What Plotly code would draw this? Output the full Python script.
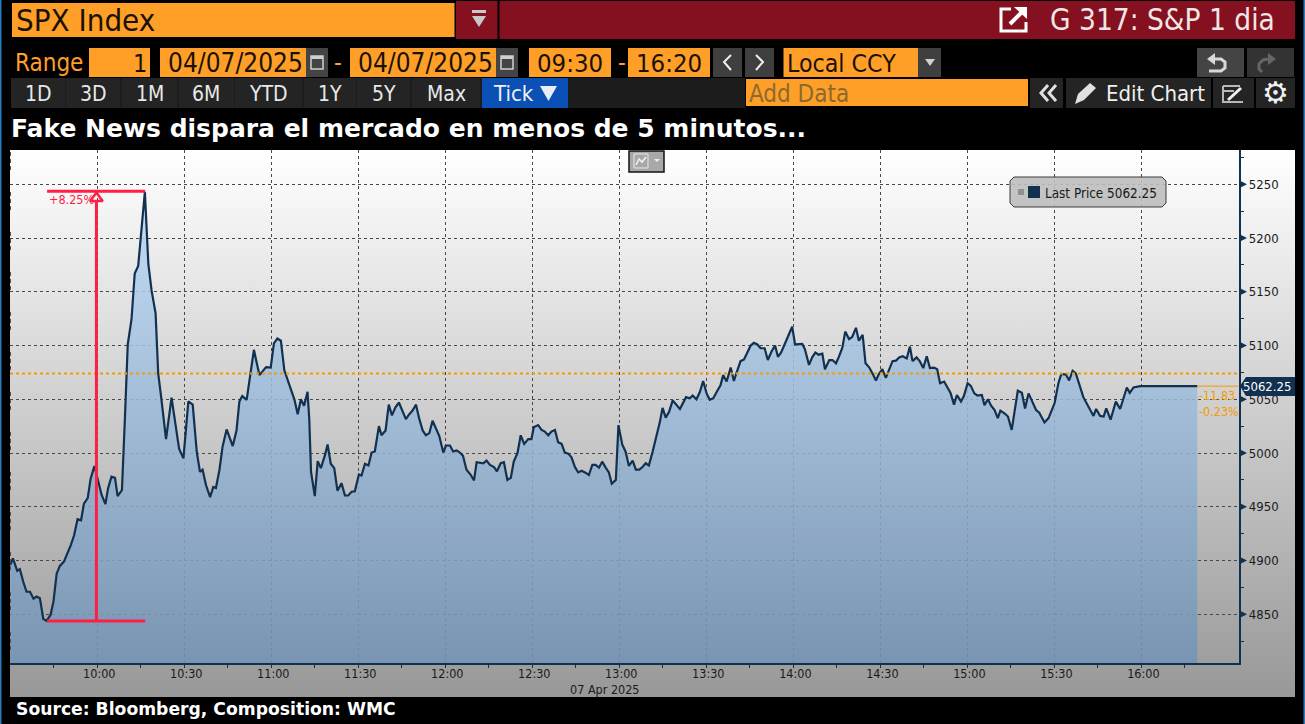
import pandas as pd
import plotly.graph_objects as go

# chart data, minutes since the 09:30 open
minutes = [
    0, 0.9, 2.4, 3.3, 4.5, 5.6, 6.8, 8, 9.1, 10.2, 11.4, 12.5, 13.9, 14.9, 16, 17.1, 18.5, 19.8, 20.9, 22,
    23.2, 24.4, 25.4, 26.7, 27.7, 29, 30.5, 31.5, 32.8, 33.7, 34.9, 36.1, 37, 38.5, 39.5, 40.5, 41.8, 42.9, 44.1, 46.4,
    47.6, 48.7, 50.1, 51, 52, 53, 53.7, 55.6, 56.8, 58.2, 59.7, 61.4, 62.9, 63.3, 64.3, 65.4, 66.3, 67.5, 68.9, 70,
    70.9, 72.1, 73.2, 74.6, 76.7, 78, 79, 80, 81.5, 84, 85.9, 88.2, 89.8, 90.9, 92.1, 93.3, 94.5, 98, 99.1, 100.2,
    101.3, 102.5, 103.1, 103.7, 105, 106, 107.1, 108.5, 109.4, 110.5, 111.7, 112.8, 114.2, 115.4, 116.5, 117.7, 118.8, 120.2, 121.1, 122.3,
    123.5, 124.6, 125.7, 127.1, 128, 129.4, 130.5, 131.6, 132.8, 134, 135.3, 136.4, 137.4, 138.7, 139.9, 141, 142.2, 143.3, 144.5, 145.6,
    147.9, 149.3, 150.2, 151.6, 152.7, 153.9, 155, 156.1, 157.3, 158.7, 159.9, 160.8, 163.1, 164.2, 165.4, 166.8, 167.8, 169.1, 170.2, 171.4,
    172.6, 173.6, 174.9, 176, 177.2, 178.6, 179.7, 180.5, 182, 183.2, 184.3, 185.5, 186.6, 187.8, 188.9, 190.1, 191.2, 192.4, 193.5, 194.7,
    195.8, 197, 198.5, 199.5, 200.7, 201.8, 203, 204.1, 205.3, 206.4, 207.4, 208.8, 209.7, 211, 212.2, 213.3, 214.6, 215.7, 216.9, 218,
    219.1, 220.2, 221.5, 222.6, 224, 224.9, 226, 227.2, 228.4, 230.9, 233, 234.3, 235.3, 236.6, 237.8, 238.9, 240.1, 241.2, 242.4, 243.8,
    244.9, 245.8, 247, 248.4, 249.5, 250.7, 251.8, 253, 254.1, 255.3, 256.4, 257.6, 258.7, 260.1, 261.2, 262.4, 263.7, 264.7, 265.8, 267.2,
    268.4, 269.6, 270.6, 273.1, 274, 275.4, 276.5, 277.6, 278.7, 280, 280.9, 282.4, 283.5, 284.7, 285.7, 286.9, 287.9, 289.2, 290.3, 291.6,
    292.6, 293.9, 294.9, 296.2, 297.3, 298.5, 299.5, 300.7, 301.9, 303.1, 304.2, 305.4, 306.5, 307.7, 309.1, 310.2, 311.1, 312.5, 313.7, 314.8,
    316, 317.1, 318.5, 319.6, 320.6, 322, 323.2, 324.2, 325.4, 326.4, 327.8, 328.8, 330.1, 331.2, 332.4, 333.5, 335, 335.9, 337.1, 338.2,
    339.4, 340.5, 341.4, 342.8, 344, 345.3, 347.4, 348.8, 349.9, 351.1, 352.2, 353.7, 354.8, 356.6, 358, 360.1, 361.4, 362.4, 364, 365.1,
    366.3, 367.4, 370, 373.5, 374.4, 375.8, 377, 377.9, 379.4, 381.2, 382.7, 385, 386, 387.3, 389.6, 409.3,
]
prices = [
    4896, 4902, 4890.5, 4892, 4880, 4871, 4871, 4864.5, 4866.5, 4865, 4845.5, 4844, 4849.5, 4862, 4888, 4895, 4899, 4907, 4914.5, 4923.5,
    4938.5, 4937.5, 4953, 4958, 4976, 4988, 4971.5, 4961, 4952.5, 4967, 4978, 4977, 4960, 4965.5, 5031, 5101, 5124.5, 5167, 5174, 5243,
    5176, 5151.5, 5130, 5074, 5052.5, 5031, 5013, 5051.5, 5031, 5004, 4995, 5048, 5045, 5031, 5001, 4982.5, 4984.5, 4970, 4959, 4968.5,
    4967.5, 4984, 5006, 5022, 5006.5, 5021, 5048, 5053, 5049.5, 5096, 5072.5, 5080, 5079.5, 5102, 5106.5, 5104.5, 5077, 5049.5, 5036, 5050,
    5044, 5057, 5031, 4982.5, 4960, 4992.5, 4986, 4998, 5008, 4990, 4986, 4965, 4972, 4960.5, 4960.5, 4964, 4964.5, 4980, 4979, 4990,
    4988.5, 5000.5, 5001.5, 5025, 5016.5, 5021, 5045, 5035, 5042.5, 5047, 5038, 5031.5, 5035.5, 5039.5, 5045, 5032, 5021, 5016.5, 5018.5, 5030,
    5016, 5000.5, 5007, 5007, 5001.5, 5002.5, 5000.5, 4997.5, 4984.5, 4980, 4974.5, 4991.5, 4990.5, 4993, 4989, 4987, 4983, 4990.5, 4991.5, 4975,
    4977, 4992, 5000, 5016.5, 5008.5, 5013, 5013, 5024, 5026, 5021.5, 5020, 5016.5, 5020, 5021.5, 5010, 5008.5, 5000.5, 4999.5, 4996, 4987,
    4982, 4983.5, 4981.5, 4979.5, 4989, 4989, 4986.5, 4992, 4986.5, 4982, 4971.5, 4975, 5026, 5008, 5001, 4988, 4993, 4984.5, 4984.5, 4987,
    4990.5, 4988.5, 5001.5, 5013, 5029, 5042, 5033, 5038.5, 5049, 5041, 5052, 5051, 5053.5, 5050, 5057, 5067, 5055.5, 5049.5, 5051, 5058,
    5063, 5072.5, 5066.5, 5079.5, 5067, 5077, 5085.5, 5087, 5094, 5100, 5102.5, 5101, 5097.5, 5097.5, 5086.5, 5094, 5100, 5089.5, 5093.5, 5103,
    5110, 5117.5, 5101, 5101.5, 5096.5, 5082, 5089, 5093.5, 5091.5, 5092.5, 5078, 5086.5, 5086.5, 5083.5, 5089.5, 5098, 5113, 5106, 5108, 5116.5,
    5104.5, 5110, 5083.5, 5079.5, 5074, 5067.5, 5073.5, 5078, 5070, 5078, 5085.5, 5086, 5089, 5090, 5088, 5099, 5085.5, 5089, 5085, 5079,
    5090, 5079, 5079.5, 5078, 5065, 5066.5, 5060, 5056, 5045, 5054, 5048, 5053, 5065, 5062.5, 5055.5, 5053.5, 5054, 5044.5, 5050, 5044,
    5040, 5032.5, 5039.5, 5037, 5034, 5021.5, 5058, 5056, 5041.5, 5055.5, 5049, 5040, 5037.5, 5028.5, 5032.5, 5046.5, 5065, 5073.5, 5073, 5067.5,
    5076.5, 5074, 5052, 5034.5, 5041, 5034.5, 5034, 5041.5, 5031, 5048, 5041, 5061, 5056, 5061, 5062.25, 5062.25,
]
price_ticks = [4850, 4900, 4950, 5000, 5050, 5100, 5150, 5200, 5250]
price_minor = [4825, 4875, 4925, 4975, 5025, 5075, 5125, 5175, 5225, 5275]
time_labels = ["10:00", "10:30", "11:00", "11:30", "12:00", "12:30", "13:00", "13:30", "14:00", "14:30", "15:00", "15:30", "16:00"]
time_minor = ["09:45", "10:15", "10:45", "11:15", "11:45", "12:15", "12:45", "13:15", "13:45", "14:15", "14:45", "15:15", "15:45", "16:15"]
prev_close = 5074.08
last_price = 5062.25
range_low = 4843.7
range_high = 5243.5

W, H = 1305, 724
ORANGE = "#ff9f27"
MAROON = "#85101f"
NAVY = "#12304f"
RED = "#ff1f44"
AMBER = "#f59a00"
NARROW = "DejaVu Sans Condensed, Liberation Sans Narrow, sans-serif"
HEAVY = "DejaVu Sans, sans-serif"

DAY = "2025-04-07 "


def at_minute(m):
    return pd.Timestamp(DAY + "09:30") + pd.to_timedelta(m, unit="min")


times = [at_minute(m) for m in minutes]
x_start = at_minute(-0.1)
x_end = at_minute(423.5)

shapes = []
notes = []


def box(x0, y0, x1, y1, fill):
    shapes.append(dict(type="rect", xref="paper", yref="paper", x0=x0 / W, x1=x1 / W,
                       y0=1 - y0 / H, y1=1 - y1 / H, fillcolor=fill, line_width=0))


def poly(points, fill=None, line=None, width=1, closed=False):
    # outline given in screen pixels
    path = "M" + " L".join(f"{x / W:.5f},{1 - y / H:.5f}" for x, y in points)
    if closed:
        path += " Z"
    shapes.append(dict(type="path", xref="paper", yref="paper", path=path,
                       fillcolor=fill if fill else "rgba(0,0,0,0)",
                       line=dict(color=line if line else "rgba(0,0,0,0)", width=width)))


def label(x, y, text, size, color, anchor="left", font=NARROW):
    notes.append(dict(xref="paper", yref="paper", x=x / W, y=1 - y / H, text=text, showarrow=False,
                      xanchor=anchor, yanchor="middle", borderpad=0,
                      font=dict(family=font, size=size, color=color)))


# window frame and the header rows
box(0, 0, 1.5, H, "#2a7ac0")
box(1303.5, 0, W, H, "#2a7ac0")

box(12, 3, 454.5, 37, ORANGE)
label(15, 20, "SPX Index", 31, "#1a1206")
box(456, 1, 497.5, 39, MAROON)
box(472, 10, 486, 13, "#c8c8c8")
poly([(472, 16), (486, 16), (479, 27)], fill="#c8c8c8", closed=True)
box(499.5, 1, 1295, 39, MAROON)
poly([(1011, 9), (1001, 9), (1001, 31), (1026, 31), (1026, 22)], line="#ffffff", width=3)
poly([(1010, 24), (1022, 12)], line="#ffffff", width=4)
poly([(1014, 7), (1027, 7), (1027, 19)], fill="#ffffff", closed=True)
label(1049, 20, "G 317: S&amp;P 1 dia", 29.5, "#f0e6e6")

label(14, 63, "Range", 24, ORANGE)
box(89, 48, 150, 77, ORANGE)
label(148, 63, "1", 25, "#1a1206", "right")
for bx0, bx1, txt in [(160, 306, "04/07/2025"), (350, 496, "04/07/2025")]:
    box(bx0, 48, bx1, 77, ORANGE)
    label(bx1 - 2, 63, txt, 26, "#1a1206", "right")
    box(bx1, 48, bx1 + 22, 77, "#444444")
    poly([(bx1 + 5, 56), (bx1 + 17, 56), (bx1 + 17, 69), (bx1 + 5, 69)], line="#cfcfcf", width=1.5, closed=True)
    box(bx1 + 5, 56, bx1 + 17, 59, "#cfcfcf")
label(338, 63, "-", 24, ORANGE, "center")
box(529, 48, 611, 77, ORANGE)
label(570, 63, "09:30", 25.5, "#1a1206", "center")
label(622, 63, "-", 24, ORANGE, "center")
box(628, 48, 710, 77, ORANGE)
label(669, 63, "16:20", 25.5, "#1a1206", "center")
box(713, 48, 742, 77, "#3f3f3f")
poly([(731, 55), (724, 62), (731, 70)], line="#f0f0f0", width=2)
box(745, 48, 774, 77, "#3f3f3f")
poly([(756, 55), (763, 62), (756, 70)], line="#f0f0f0", width=2)
box(783.5, 48, 918, 77, ORANGE)
label(786, 63, "Local CCY", 24.7, "#1a1206")
box(918, 48, 941, 77, "#3f3f3f")
poly([(925, 59), (935, 59), (930, 66)], fill="#d0d0d0", closed=True)

# undo and redo arrows
box(1197, 48, 1244, 77, "#444444")
poly([(1214, 59), (1221, 59), (1225, 62), (1225, 68), (1221, 71), (1209, 71)], line="#d8d8d8", width=3)
poly([(1207, 59), (1215, 53), (1215, 65)], fill="#d8d8d8", closed=True)
box(1247, 48, 1294, 77, "#333333")
poly([(1268, 59), (1263, 60), (1259, 64), (1259, 69), (1262, 72)], line="#666666", width=3)
poly([(1276, 59), (1268, 53), (1268, 65)], fill="#666666", closed=True)

box(11, 78, 745, 108, "#1c1c1c")
for bx0, bx1, txt in [(11, 65, "1D"), (66, 120, "3D"), (122, 177, "1M"), (179, 234, "6M"), (235, 302, "YTD"),
                      (304, 356, "1Y"), (357, 410, "5Y"), (412, 480, "Max")]:
    box(bx0, 78, bx1, 108, "#242424")
    label((bx0 + bx1) / 2, 94, txt, 21, "#e8e8e8", "center")
box(482, 78, 568, 108, "#0a50b5")
label(492, 94, "Tick", 22, "#f0f0f0")
poly([(540, 86), (557, 86), (548.5, 101)], fill="#e8eef8", closed=True)
box(746, 79, 1028, 106, ORANGE)
label(748, 94, "Add Data", 24, "#8a6a30")
box(1030, 78, 1063, 108, "#242424")
poly([(1048, 85), (1041, 93), (1048, 101)], line="#e0e0e0", width=3)
poly([(1056, 85), (1049, 93), (1056, 101)], line="#e0e0e0", width=3)
box(1066, 78, 1211, 108, "#242424")
poly([(1075, 104), (1078, 94), (1090, 83), (1096, 88), (1084, 100)], fill="#e0e0e0", closed=True)
label(1105, 94, "Edit Chart", 22, "#f0f0f0")
box(1213, 78, 1254, 108, "#242424")
poly([(1223, 86), (1240, 86)], line="#b8b8b8", width=2)
poly([(1223, 91), (1234, 91)], line="#b8b8b8", width=2)
poly([(1223, 86), (1223, 102), (1243, 102)], line="#b8b8b8", width=2)
poly([(1228, 100), (1241, 88)], line="#f0f0f0", width=3)
box(1256, 78, 1295, 108, "#242424")
label(1275, 92, "<b>⚙</b>", 30, "#f0f0f0", "center", HEAVY)

label(10, 129, "<b>Fake News dispara el mercado en menos de 5 minutos...</b>", 25, "#ffffff", font=HEAVY)
label(15, 709, "<b>Source: Bloomberg, Composition: WMC</b>", 17.2, "#ffffff", font=HEAVY)

# dashed left border of the panel
for k in range(0, 13):
    shapes.append(dict(type="line", xref="paper", yref="paper", x0=10.5 / W, x1=10.5 / W,
                       y0=1 - (152 + k * 40) / H, y1=1 - (170 + k * 40) / H,
                       line=dict(color="#555555", width=1, dash="4px,3px")))

# chart type selector
box(629, 151, 664, 172, "#a8a8a8")
poly([(629, 151), (664, 151), (664, 172), (629, 172)], line="#111111", width=1.5, closed=True)
poly([(634, 154), (648, 154), (648, 168), (634, 168)], line="#e8e8e8", width=1, closed=True)
poly([(636, 165), (639, 159), (642, 162), (646, 157)], line="#f4f4f4", width=1.5)
poly([(654, 159), (660, 159), (657, 162)], fill="#f0f0f0", closed=True)

# legend box
poly([(1014, 177), (1162, 177), (1166, 181), (1166, 203), (1162, 207), (1014, 207), (1010, 203), (1010, 181)],
     fill="rgba(190,190,190,0.9)", line="#3a3a3a", width=1, closed=True)
box(1018, 189, 1024, 195, "#8f8f8f")
box(1028, 186, 1040, 198, NAVY)
label(1044, 193, f"Last Price {last_price:.2f}", 13.4, "#1a1a1a")

# arrow heads on the price axis
for p in price_ticks:
    shapes.append(dict(type="path", xref="paper", yref="y2", fillcolor=NAVY, line_width=0,
                       path=f"M{1239 / W:.5f},{p + 3.7} L{1247 / W:.5f},{p} L{1239 / W:.5f},{p - 3.7} Z"))

# price tag on the axis
poly([(1240, 386), (1246, 377), (1295, 377), (1295, 396), (1246, 396)], fill=NAVY, closed=True)
notes.append(dict(xref="paper", yref="y2", x=1293 / W, y=last_price, text=f"{last_price:.2f}", showarrow=False,
                  xanchor="right", yanchor="middle", font=dict(family=NARROW, size=13, color="#ffffff")))
label(1198, 395, "-11.83", 12.5, AMBER)
label(1198, 411, "-0.23%", 12.5, AMBER)
label(48, 200, "+8.25%", 12.5, RED)
label(605, 689, "07 Apr 2025", 12.5, "#1a1a1a", "center")

fig = go.Figure()

# panel background sits in its own subplot so the chart grid draws over it
fig.add_trace(go.Scatter(x=[0, 1], y=[1, 1], mode="none", fill="tozeroy", hoverinfo="skip",
                         fillgradient=dict(type="vertical", start=0, stop=1,
                                           colorscale=[[0, "#989898"], [1, "#ffffff"]]),
                         xaxis="x", yaxis="y"))

fig.add_trace(go.Scatter(x=times, y=prices, mode="lines", name="Last Price", fill="tozeroy",
                         line=dict(color=NAVY, width=2.2),
                         fillgradient=dict(type="vertical", start=range_low - 39, stop=range_high,
                                           colorscale=[[0, "rgba(115,147,182,0.85)"], [1, "rgba(188,218,246,0.85)"]]),
                         xaxis="x2", yaxis="y2"))

fig.add_trace(go.Scatter(x=[x_start, x_end], y=[prev_close, prev_close], mode="lines",
                         line=dict(color=AMBER, width=2, dash="3px,3px"), xaxis="x2", yaxis="y2"))
fig.add_trace(go.Scatter(x=[times[-1], x_end], y=[last_price, last_price], mode="lines",
                         line=dict(color=AMBER, width=1), xaxis="x2", yaxis="y2"))

# measure bracket from the low to the high of the spike
red_line = dict(color=RED, width=3)
fig.add_trace(go.Scatter(x=[at_minute(12.7), at_minute(46.5)], y=[range_low, range_low], mode="lines",
                         line=red_line, xaxis="x2", yaxis="y2"))
fig.add_trace(go.Scatter(x=[at_minute(12.7), at_minute(46.5)], y=[range_high, range_high], mode="lines",
                         line=red_line, xaxis="x2", yaxis="y2"))
fig.add_trace(go.Scatter(x=[at_minute(29.7), at_minute(29.7)], y=[range_low, range_high - 10], mode="lines",
                         line=red_line, xaxis="x2", yaxis="y2"))
fig.add_trace(go.Scatter(x=[at_minute(29.7)], y=[range_high - 6.5], mode="markers",
                         marker=dict(symbol="triangle-up-open", size=11, color=RED, line=dict(color=RED, width=2.5)),
                         xaxis="x2", yaxis="y2"))

fig.update_layout(
    width=W, height=H,
    margin=dict(l=0, r=0, t=0, b=0),
    paper_bgcolor="#000000",
    plot_bgcolor="rgba(0,0,0,0)",
    showlegend=False,
    shapes=shapes,
    annotations=notes,
    xaxis=dict(domain=[10 / W, 1295 / W], range=[0, 1], visible=False, fixedrange=True),
    yaxis=dict(domain=[1 - 697 / H, 1 - 150 / H], range=[0, 1], visible=False, fixedrange=True),
    xaxis2=dict(
        domain=[10 / W, 1238.5 / W], anchor="y2", type="date", range=[x_start, x_end],
        tickmode="array", tickvals=[DAY + t for t in time_labels], ticktext=time_labels,
        ticks="outside", ticklen=3, tickcolor=NAVY, ticklabelshift=2, ticklabelstandoff=-5,
        showline=True, linecolor=NAVY, linewidth=1.5,
        showgrid=True, gridcolor="#484848", griddash="3px,3px", gridwidth=1, zeroline=False,
        minor=dict(tickmode="array", tickvals=[DAY + t for t in time_minor], ticks="outside", ticklen=3,
                   tickcolor=NAVY, showgrid=False),
        tickfont=dict(family=NARROW, size=12.5, color="#1a1a1a"),
    ),
    yaxis2=dict(
        domain=[1 - 663 / H, 1 - 150 / H], anchor="x2", side="right", range=[4804.7, 5281.9],
        tickmode="array", tickvals=price_ticks, ticktext=[str(p) for p in price_ticks],
        ticks="outside", ticklen=4, tickcolor=NAVY, ticklabelstandoff=2,
        showline=True, linecolor=NAVY, linewidth=1.5,
        showgrid=True, gridcolor="#484848", griddash="3px,3px", gridwidth=1, zeroline=False,
        minor=dict(tickmode="array", tickvals=price_minor, ticks="outside", ticklen=4,
                   tickcolor=NAVY, showgrid=False),
        tickfont=dict(family=NARROW, size=13, color="#1a1a1a"),
    ),
)

fig.write_html("out.html", config={"displayModeBar": False}, post_script="document.body.style.margin='0';")
